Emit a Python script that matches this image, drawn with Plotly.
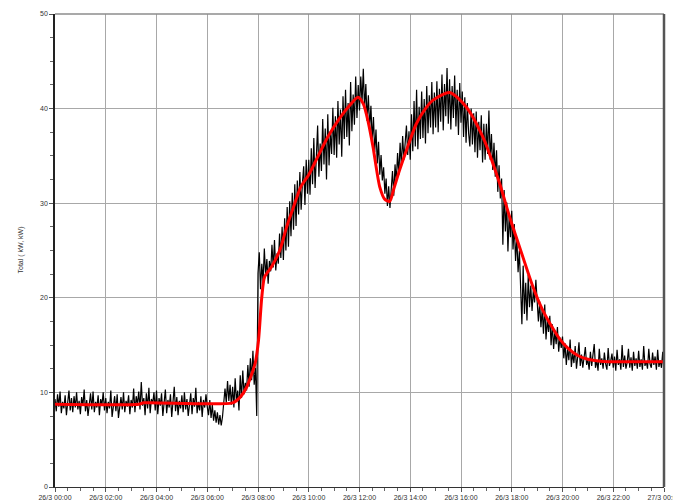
import pandas as pd
import plotly.graph_objects as go

# Measured total load, one reading every 3 minutes (kW), 26/3 00:00 .. 27/3 00:00
load_h00 = [9.3, 8.0, 9.8, 8.5, 10.1, 7.8, 9.0, 8.3, 9.7, 7.6, 8.9, 10.2, 8.1, 9.4, 7.9, 9.6, 8.4, 10.0, 8.2, 9.1]
load_h01 = [7.7, 9.5, 8.6, 10.3, 8.0, 9.2, 7.5, 8.8, 9.9, 8.2, 10.1, 7.9, 9.0, 8.4, 9.7, 7.6, 9.3, 8.7, 10.0, 8.1]
load_h02 = [9.4, 7.8, 9.0, 8.3, 10.2, 7.4, 8.9, 9.6, 8.0, 9.8, 7.3, 8.6, 9.5, 8.2, 10.0, 7.9, 9.1, 8.5, 9.7, 7.7]
load_h03 = [9.2, 8.4, 10.4, 7.9, 9.6, 8.7, 10.1, 8.2, 11.1, 8.6, 9.4, 7.6, 9.9, 8.3, 10.5, 7.8, 9.3, 8.8, 10.0, 8.1]
load_h04 = [10.2, 7.7, 9.4, 8.6, 9.9, 7.5, 8.9, 10.3, 7.8, 9.2, 8.4, 9.8, 7.4, 8.8, 10.6, 8.0, 9.5, 7.6, 9.1, 8.3]
load_h05 = [9.7, 7.9, 10.0, 8.2, 9.3, 7.5, 8.7, 9.9, 7.7, 9.4, 8.5, 10.5, 7.8, 9.0, 8.1, 9.6, 7.4, 9.2, 8.4, 9.8]
load_h06 = [8.5, 7.6, 9.2, 7.3, 8.7, 7.0, 8.1, 6.8, 7.9, 6.6, 7.6, 6.5, 7.4, 8.6, 10.4, 8.9, 11.2, 9.1, 10.8, 8.7]
load_h07 = [10.6, 8.4, 11.5, 9.0, 10.2, 8.1, 11.8, 9.4, 12.3, 9.8, 11.0, 10.2, 12.9, 10.6, 13.6, 11.3, 14.4, 10.8, 12.6, 7.5]
load_h08 = [22.6, 24.8, 20.9, 23.6, 21.7, 25.2, 22.3, 24.1, 21.5, 23.9, 22.8, 25.6, 23.2, 26.1, 22.9, 24.7, 23.6, 26.8, 24.2, 27.5]
load_h09 = [24.0, 28.4, 25.0, 29.6, 25.4, 30.2, 26.5, 31.1, 27.2, 32.0, 27.6, 32.4, 28.8, 33.3, 29.3, 32.1, 33.9, 29.8, 34.6, 31.0]
load_h10 = [34.6, 30.9, 35.8, 32.0, 36.9, 31.6, 35.0, 38.2, 32.8, 36.3, 33.4, 38.9, 34.1, 37.9, 32.5, 39.4, 34.0, 37.6, 35.2, 40.1]
load_h11 = [35.1, 39.2, 34.8, 40.8, 36.2, 39.9, 34.9, 41.3, 36.8, 42.0, 37.0, 40.6, 36.1, 42.8, 37.6, 41.5, 38.3, 43.4, 39.0, 42.5]
load_h12 = [39.8, 43.4, 40.6, 44.2, 39.9, 42.6, 38.7, 41.4, 37.9, 40.3, 36.6, 39.1, 35.4, 37.8, 34.2, 36.5, 33.0, 35.1, 32.4, 33.8]
load_h13 = [31.0, 32.6, 29.7, 31.8, 29.5, 31.2, 33.4, 30.8, 34.1, 32.2, 35.3, 33.0, 36.4, 33.9, 37.1, 34.6, 36.0, 38.2, 35.1, 37.6]
load_h14 = [34.6, 39.4, 35.5, 40.8, 36.0, 42.0, 35.7, 40.2, 36.8, 41.8, 36.9, 41.0, 36.3, 42.4, 37.4, 41.4, 38.0, 42.8, 37.3, 41.7]
load_h15 = [38.0, 42.9, 37.5, 42.1, 38.6, 43.6, 37.7, 42.6, 39.2, 44.3, 38.4, 43.1, 37.8, 42.4, 39.0, 43.5, 38.1, 42.0, 37.2, 42.7]
load_h16 = [38.5, 41.8, 37.0, 41.2, 36.4, 40.6, 37.4, 36.0, 40.0, 36.2, 39.5, 35.4, 39.7, 34.8, 38.6, 35.6, 39.3, 34.3, 38.4, 34.6]
load_h17 = [38.4, 35.2, 39.8, 34.6, 37.3, 33.5, 36.4, 32.8, 35.6, 31.2, 34.0, 30.5, 32.6, 25.6, 31.4, 27.0, 30.1, 24.9, 28.8, 26.4]
load_h18 = [29.2, 25.1, 27.8, 23.9, 26.4, 22.7, 25.0, 19.8, 17.2, 23.4, 18.3, 21.6, 17.6, 22.4, 19.0, 21.3, 18.6, 20.8, 19.5, 21.9]
load_h19 = [20.1, 17.5, 19.6, 16.9, 18.8, 16.2, 19.3, 15.6, 17.7, 16.4, 18.1, 15.0, 17.2, 14.6, 16.5, 15.1, 16.9, 14.3, 15.8, 14.7]
load_h20 = [15.9, 13.6, 15.2, 12.9, 14.7, 13.4, 15.6, 12.7, 14.2, 13.1, 14.9, 12.5, 13.8, 15.3, 12.8, 14.0, 12.6, 13.7, 14.8, 12.9]
load_h21 = [13.5, 12.4, 14.3, 12.8, 13.9, 15.1, 12.6, 13.4, 12.3, 14.6, 12.9, 13.6, 12.5, 14.2, 13.0, 12.4, 14.7, 12.8, 13.3, 14.1]
load_h22 = [12.6, 13.8, 12.3, 14.5, 12.9, 13.5, 12.4, 15.0, 12.7, 13.9, 12.5, 13.2, 14.6, 12.6, 13.7, 12.3, 14.3, 12.8, 13.6, 12.5]
load_h23 = [14.4, 12.7, 13.5, 12.4, 14.9, 12.8, 13.3, 12.5, 14.6, 13.0, 12.6, 14.2, 12.9, 13.8, 12.4, 14.5, 12.7, 13.4, 12.6, 14.3]
load_end = [12.1]

# Smoothed load profile: hour of day and kW
trend_hours = [0.0, 3.3, 3.5, 7.0, 7.3, 7.56, 7.89, 8.02, 8.15, 8.26, 8.54, 8.87,
               9.13, 9.4, 9.7, 10.0, 10.3, 10.75, 11.22, 11.6, 11.94, 12.15, 12.35,
               12.53, 12.8, 13.0, 13.19, 13.35, 13.58, 13.85, 14.24, 14.6, 14.9,
               15.55, 16.2, 16.86, 17.52, 17.91, 18.44, 18.83, 19.2, 19.5, 19.9,
               20.2, 20.6, 21.0, 21.5, 22.0, 24.0]
trend_kw = [8.75, 8.75, 8.9, 8.9, 9.5, 10.6, 13.1, 15.5, 20.1, 22.2, 23.3, 25.1,
            27.5, 29.6, 31.8, 33.0, 34.6, 37.0, 39.0, 40.3, 41.2, 40.5, 38.5,
            36.0, 31.7, 30.4, 30.2, 31.5, 33.5, 35.6, 38.4, 40.0, 40.9,
            41.7, 40.2, 37.0, 32.1, 28.6, 24.3, 21.2, 18.8, 17.3, 15.6,
            14.7, 13.9, 13.5, 13.3, 13.25, 13.25]

x_tick_labels = ["26/3 00:00", "26/3 02:00", "26/3 04:00", "26/3 06:00",
                 "26/3 08:00", "26/3 10:00", "26/3 12:00", "26/3 14:00",
                 "26/3 16:00", "26/3 18:00", "26/3 20:00", "26/3 22:00",
                 "27/3 00:00"]
y_tick_values = [0, 10, 20, 30, 40, 50]

start = pd.Timestamp("2013-03-26 00:00")
end = pd.Timestamp("2013-03-27 00:00")

load = (load_h00 + load_h01 + load_h02 + load_h03 + load_h04 + load_h05 +
        load_h06 + load_h07 + load_h08 + load_h09 + load_h10 + load_h11 +
        load_h12 + load_h13 + load_h14 + load_h15 + load_h16 + load_h17 +
        load_h18 + load_h19 + load_h20 + load_h21 + load_h22 + load_h23 + load_end)
load_time = pd.date_range(start, periods=len(load), freq="3min")
trend_time = start + pd.to_timedelta(trend_hours, unit="h")
tick_time = pd.date_range(start, end, freq="2h")

FONT = "Liberation Sans, Arial, sans-serif"

fig = go.Figure()
fig.add_trace(go.Scatter(x=load_time, y=load, mode="lines",
                         line=dict(color="#000000", width=1.2), showlegend=False))
fig.add_trace(go.Scatter(x=trend_time, y=trend_kw, mode="lines",
                         line=dict(color="#ff0000", width=3, shape="spline", smoothing=0.7),
                         showlegend=False))

fig.update_layout(
    width=673, height=500,
    margin=dict(l=55, r=9, t=14, b=13, autoexpand=False),
    plot_bgcolor="white", paper_bgcolor="white",
    font=dict(family=FONT, size=7, color="#333333"),
    xaxis=dict(
        range=[start, end], tickmode="array", tickvals=tick_time, ticktext=x_tick_labels,
        ticklabeloverflow="allow",
        showgrid=True, gridcolor="#a8a8a8", gridwidth=1,
        ticks="outside", ticklen=4, tickcolor="#555555",
        showline=True, linecolor="#333333", linewidth=1, zeroline=False,
        tickfont=dict(size=7, color="#333333"),
        minor=dict(tickmode="linear", tick0=start, dtick=1800000, ticks="outside",
                   ticklen=3, tickcolor="#666666", showgrid=False),
    ),
    yaxis=dict(
        range=[0, 50], tickmode="array", tickvals=y_tick_values,
        showgrid=True, gridcolor="#a8a8a8", gridwidth=1,
        ticks="outside", ticklen=4, tickcolor="#555555",
        showline=True, linecolor="#222222", linewidth=1.5, zeroline=False,
        tickfont=dict(size=7, color="#333333"),
        minor=dict(tickmode="linear", tick0=0, dtick=2.5, ticks="outside",
                   ticklen=3, tickcolor="#666666", showgrid=False),
    ),
    shapes=[
        dict(type="line", xref="paper", yref="paper", x0=0, x1=1, y0=1, y1=1,
             line=dict(color="#8c8c8c", width=1.5)),
        dict(type="line", xref="paper", yref="paper", x0=1, x1=1, y0=0, y1=1,
             line=dict(color="#555555", width=2.5)),
    ],
    annotations=[
        dict(text="Total ( kW, kW)", textangle=-90, xref="paper", yref="paper",
             x=-35 / 609, y=0.5, xanchor="center", yanchor="middle",
             showarrow=False, font=dict(size=7, color="#333333")),
    ],
)

fig.write_html("out.html")
